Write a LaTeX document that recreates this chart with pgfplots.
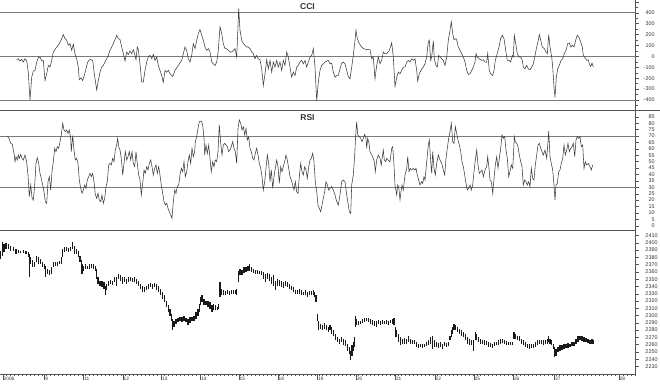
\documentclass[border=0pt]{standalone}
\usepackage{pgfplots}
\pgfplotsset{compat=1.18}
\usepackage{fontspec}
\setmainfont{Liberation Sans}
\definecolor{linecol}{HTML}{3C3C3C}
\definecolor{refcol}{HTML}{7A7A7A}
\definecolor{sepcol}{HTML}{555555}
\definecolor{labcol}{HTML}{333333}
\pgfplotsset{
  panel/.style={
    scale only axis, width=635.7pt, xmin=0, xmax=635.7,
    axis x line*=bottom, axis y line*=right,
    axis line style={sepcol, line width=0.6pt},
    tick align=outside, ytick pos=right, yticklabel pos=right,
    major tick length=3pt, minor tick length=1.8pt,
    every tick/.style={sepcol, line width=0.4pt},
    yticklabel style={font=\fontsize{5.4}{6}\selectfont, anchor=east, inner sep=0pt, xshift=16pt, text=labcol},
  }
}
\begin{document}
\begin{tikzpicture}
\useasboundingbox (0pt,0pt) rectangle (660pt,383pt);
% ---------------- CCI ----------------
\begin{axis}[panel, at={(0pt,273pt)}, anchor=south west, height=110pt,
  ymin=-492, ymax=517, xtick=\empty,
  ytick={-400,-300,-200,-100,0,100,200,300,400,500},
  yticklabels={-400,-300,-200,-100,0,100,200,300,400,{}},
  minor ytick={-450,-350,-250,-150,-50,50,150,250,350,450}]
\addplot[refcol, line width=0.9pt] coordinates {(0,400) (635.7,400)};
\addplot[refcol, line width=0.9pt] coordinates {(0,0) (635.7,0)};
\addplot[refcol, line width=0.9pt] coordinates {(0,-400) (635.7,-400)};
\addplot[linecol, line width=0.55pt] table {
x y
16.7 -31
18.3 -22
20 -43
21.7 -28
23.3 -52
25 -22
26.7 -43
28.3 -145
30 -400
31.7 -191
33.3 -135
35 -129
36.7 -52
38.3 -12
40 -6
41.7 -43
43.3 -37
45 -222
46.7 -160
48.3 -83
50 -98
51.7 -37
53.3 40
55 62
56.7 86
58.3 102
60 132
61.7 163
63.3 200
65 163
66.7 148
68.3 102
70 117
71.7 55
73.3 111
75 25
76.7 -22
78.3 -98
79.3 -215
81 -197
82.7 -222
84.3 -175
86 -114
87.7 -52
90 -28
92.7 -37
94.3 -160
96.7 -308
98.3 -222
100 -145
101.7 -98
103.3 -83
105 -52
106.7 -22
108.3 9
110 55
111.7 86
113.3 117
115 154
116.7 194
118.3 163
120 154
121.7 86
123.3 25
125 -43
126.7 40
128.3 18
130 49
131.7 25
133.3 62
135 9
136 -31
137.3 86
138.3 62
140 -68
141.7 -237
143.3 -237
145 -129
146.7 -52
148.3 -6
150 9
151.7 -22
153.3 18
155 -37
156.7 -6
158.3 -83
160 -129
161.7 -175
163.3 -237
165 -129
166.7 -145
168.3 -129
170 -160
172.7 -185
175 -129
178.3 -83
181.7 -37
183.3 25
185 86
186.7 55
188.3 -22
190 -52
191.7 9
193.3 117
195 71
196.7 148
198.3 209
200 246
201.7 194
203.3 148
205 86
206.7 55
208.3 71
210 40
211.7 -52
213.3 -68
215 -83
216.7 -52
218.3 55
220 271
221.7 209
223.3 117
225 71
226.7 71
228.3 55
230 40
231.7 40
233.3 55
235 71
236.7 -6
237.7 209
238.7 440
240 240
241.7 148
243.3 117
245 102
246.7 86
248.3 86
250 71
251.7 40
253.3 25
255 -22
256.7 9
258.3 -22
260 -31
261.7 -114
263.3 -268
265 -160
266.7 -31
268.3 -114
270 -37
271.7 -145
273.3 -52
275 -98
276.7 -37
278.3 -98
280 -52
281.7 -129
283.3 -37
285 -83
286.7 40
288.3 -6
290 -98
291.7 -191
293.3 -145
295 -175
296.7 -98
298.3 -83
300 -52
301.7 -37
303.3 -68
305 -37
306.7 -98
308.3 -52
310 -6
311.7 9
313.3 71
315 -98
316.7 -406
318.3 -237
320 -129
321.7 -83
325 -52
328.3 -37
330 -68
331.7 -62
333.3 -145
335 -191
336.7 -175
338.3 -175
340 -114
341.7 -62
343.3 -52
345 -68
346.7 -129
348.3 -185
350 -206
351.7 -98
353.3 9
355 148
356 240
357.3 163
359.3 117
361.7 86
363.3 71
366.7 62
370 62
371.7 -22
373.3 -6
375 -206
376.7 -83
378.3 -6
380 -68
381.7 -37
383.3 40
385 25
386.7 25
389.3 55
391.7 123
393.3 -6
395 -277
396.7 -191
398.3 -145
400 -160
401.7 -129
403.3 -98
405 -98
406.7 -52
408.3 -37
410 -52
411.7 -22
413.3 -37
415 -22
416.7 -129
417.7 -228
419.3 -160
421.7 -114
423.3 -98
425 -68
426.7 -6
428.3 132
429.3 148
430.7 -37
431.7 -6
433.3 142
434.3 -22
436 -83
437.3 -98
438.7 9
440 -6
441.7 -22
443.3 -37
445 -83
446.7 -6
448.3 148
450 240
451.3 317
452.7 209
454 154
456 163
457.3 132
458.3 86
460 55
461.7 25
463.3 -6
465 -52
466.7 -129
468.3 -166
470 -160
471.7 -129
473.3 -98
475 -52
476 25
477.3 -6
479.3 -22
481.7 -37
483.3 -31
485 -52
486.7 -52
487.7 25
489.3 -129
490.7 -160
492.7 -175
494 -129
495.3 -37
496.7 9
497.7 40
499 86
500.7 163
502.3 194
504 163
505.7 55
507.3 -37
509 -37
510.7 -52
512.3 9
513.3 -6
514.3 194
515.7 117
517.3 25
519 -6
520.7 -6
522.3 -37
523.3 -98
525 -114
526.7 -83
528.3 -114
530 -123
531.7 -98
533.3 -68
535 9
536.7 86
538.3 148
539.3 200
540.7 148
542.3 86
544.3 71
546 40
547.3 25
548.7 200
550 86
551.7 -6
552.7 -98
554 -283
555 -375
556.3 -191
557.7 -114
559.3 -83
561 -37
562.7 -22
564.3 25
566 55
567.7 117
569.3 123
570.7 86
572.3 102
574 86
575.7 148
577.3 194
579 172
580.7 132
582.3 86
583.3 9
585 -12
586.7 -37
588.3 -31
589.3 -68
590.7 -92
592 -62
593.3 -98
};
\end{axis}
\draw[sepcol, line width=0.6pt] (0pt,273pt) -- (660pt,273pt);
\node[font=\bfseries\fontsize{8.5}{9}\selectfont, text=labcol] at (307.5pt,376.5pt) {CCI};
% ---------------- RSI ----------------
\begin{axis}[panel, at={(0pt,153pt)}, anchor=south west, height=120pt,
  ymin=-3.3, ymax=90.3, xtick=\empty,
  ytick={0,5,...,85},
  yticklabels={0,5,10,15,20,25,30,35,40,45,50,55,60,65,70,75,80,85}]
\addplot[refcol, line width=0.9pt] coordinates {(0,70) (635.7,70)};
\addplot[refcol, line width=0.9pt] coordinates {(0,30) (635.7,30)};
\addplot[linecol, line width=0.55pt] table {
x y
7.3 70
9 68.2
10.7 64.3
12.3 63.5
13.3 59.1
14.3 55.2
15 50
16 53.9
17.3 51.3
18.3 55.2
19.3 52.6
20.7 55.7
22 52.6
23.3 51.3
25 55.2
26.7 49.5
28 39.6
29.3 22.7
30.7 31.8
32 22
33.3 20.1
34.7 31.8
36 48.7
37.3 53.1
38.7 48.7
40 40.9
41.3 37
42.7 31.8
44 26.6
45.3 18.8
46.7 17.5
48 34.4
49.3 38.3
50.7 27.9
52 42.2
53.3 50
54.7 60.4
56 57.8
57.3 61.7
58.7 60.4
60 65.6
61.3 70.8
62.7 79.9
64 74.7
65.3 73.4
66.7 74.7
68 72.1
69.3 74.7
70.7 68.2
71.3 57.8
72.7 70.3
74 59.1
75.3 51.3
76.7 52.6
78 48.7
79.3 35.7
80.7 29.2
82 25.3
83.3 27.9
84.7 31.8
86 29.2
87.3 35.7
88.7 38.3
90 40.9
91.3 38.3
92.7 40.9
94 34.4
95.3 24.5
96.7 21.4
98 25.3
99.3 20.1
100.7 18.8
102 24
103.3 17.5
104.7 21.4
106 30.5
107.3 34.4
108.7 47.4
110 48.7
111.3 47.4
112.7 52.6
114 50
115.3 59.1
116.7 63
117.7 68.2
118.7 61.7
120 59.1
121.3 52.6
122.7 39.6
124 48.7
125.3 57.8
126.7 51.3
128 53.9
129.3 57.8
130.7 51.3
132 57.8
133.3 48.7
134.7 46.1
136 57.8
137.3 48.7
138.7 39.6
140 35.7
141.3 24
142.7 33.1
144 43.5
145.3 40.9
146.7 46.1
148 43.5
149.3 48.7
150.7 51.3
152 46.1
153.3 39.6
154.7 44.8
156 47.4
157.3 40.9
158.7 46.1
160 39.6
161.3 31.8
162.7 25.3
164 18.8
165.3 16.2
166.7 17.5
168 13.6
169.3 11
170.7 8.4
172 5.8
173.3 18.8
174.7 27.9
176 25.3
177.3 30.5
178.7 31.8
180 39.6
181.3 44.8
182.7 42.2
184 50
185.3 38.3
186.7 42.2
188 50
189.3 55.2
190.7 48.7
192 60.4
193.3 53.9
194.7 57.8
195.3 65.6
196.7 69.5
198 76
199.3 81.2
201.3 81.7
202.7 78.6
204 68.2
204.7 55.2
206 63
207.3 56.5
208.7 63
210 52.6
211.3 42.2
212.7 50
214 46.1
215.3 51.3
216.7 50
218 57.8
219.3 78.6
220.7 64.3
222 55.2
223.3 63
224.7 64.3
226 63
227.3 61.7
228.7 57.8
230 59.1
231.3 61.7
232.7 65.6
234 60.4
235.3 57.8
236.7 48.7
238 76
239.3 82.5
240.7 79.9
242 74.7
243.3 77.3
244.7 70.8
246 76
247.3 66.9
248.7 69.5
250 60.4
251.3 57.8
252.7 52.6
254 51.3
255.3 56.5
256.7 60.4
258 55.2
259.3 48.7
260.7 44.8
262 38.3
263.3 27.9
264.7 34.4
266 44.8
267.3 55.2
268.7 48.7
270 34.4
271.3 43.5
272.7 29.2
274 38.3
275.3 44.8
276.7 51.3
278 46.1
279.3 33.1
280.7 46.1
282 42.2
283.3 46.1
284.7 50
286 55.2
287.3 51.3
288.7 44.8
290 38.3
291.3 35.7
292.7 31.8
294 27.9
295.3 34.4
296.7 26.6
298 25.3
299.3 38.3
300.7 48.7
302 42.2
303.3 39.6
304.7 46.1
306 43.5
307.3 37
308.7 46.1
310 51.3
311.3 52.6
312.7 56.5
314 50
315.3 34.4
316.7 26.6
318 16.2
319.3 13.6
320.7 11
322 16.2
323.3 21.4
324.7 26.6
326 34.4
327.3 31.8
328.7 27.9
330 29.2
331.7 30.5
333.3 27.9
335 24
336.7 18.8
338.3 16.2
340 24
341.7 34.4
343.3 35.7
345 34.4
346.7 24
348.3 16.2
349.3 11
350.7 9.7
351.7 31.8
353.3 39.6
354.7 55.2
355.7 70.8
356.7 81.2
357.7 70.8
359.3 69.5
360.7 68.2
362 65.6
363.3 68.2
364.7 71.3
366 68.2
366.7 60.4
367.7 68.2
369 64.3
370 57.8
371.7 55.2
373.3 52.6
374.3 50
375.3 42.2
376.7 51.3
378.3 55.2
380 52.6
381.3 47.4
382.3 53.9
383.3 59.1
384.3 51.3
385.7 50
386.7 52.6
388.3 51.3
390 50
391.7 60.4
392.7 61.7
394 47.4
395 31.8
396.7 24
397.7 31.8
398.7 30.5
400 20.1
401 26.6
402 31.8
403.3 27.9
405 39.6
406.7 44.8
407.7 53.9
409 42.2
410.3 44.8
411.7 43.5
413.3 44.8
415 43.5
416 44.8
417.3 39.6
418.7 35.7
420 31.8
421.7 34.4
422.7 33.1
424 38.3
425 35.7
426.7 50
428.3 63
429.3 66.9
430.7 50
431.7 40.9
432.7 57.8
434 44.8
435.3 39.6
436.7 48.7
438.3 55.2
440 51.3
441.7 48.7
443.3 43.5
444.7 39.6
446 52.6
447.3 60.4
448.7 68.2
450 73.4
451.3 79.9
452.7 65.6
454 64.3
455.3 77.3
456.7 72.1
458 66.9
459.3 63
460.7 57.8
462 50
463.3 46.1
464.7 39.6
466 33.1
467.3 27.9
468.7 29.2
470 31.8
471.3 27.9
472.7 31.8
474 42.2
475.3 51.3
476.7 59.1
478 47.4
479.3 40.9
480.7 42.2
482 43.5
483.3 38.3
485 43.5
486.7 46.1
487.7 53.9
489 44.8
490 35.7
491.3 34.4
492.7 25.3
494 37
495.3 47.4
496.7 53.9
498 44.8
499.3 52.6
500.7 60.4
502 70.8
503.3 68.2
504.7 69.5
506 59.1
507.3 52.6
508.7 38.3
510 42.2
511.3 47.4
512.7 44.8
513.3 52.6
514.3 69.5
515.3 65.6
516.7 64.3
518 61.7
519.3 55.2
520.7 50
522 46.1
523.3 31.8
524.7 35.7
526 34.4
527.3 31.8
528.7 34.4
530 30.5
531.3 44.8
532.7 37
534 35.7
535.3 47.4
536.7 55.2
538 63
539.3 64.3
540.7 60.4
542 57.8
543.3 55.2
545 59.1
546.7 52.6
548 65.6
548.7 73.9
550 53.9
551.3 48.7
552.7 43.5
554 31.8
555 20.1
556 31.8
557.3 33.1
558.7 42.2
560 43.5
561.3 48.7
562.7 52.6
564 63
565.3 55.2
566.7 59.1
568 64.3
569.3 57.8
570.7 60.4
572 61.7
573.3 64.3
574.7 53.9
576 66.9
577.3 69.5
578.7 68.2
580 69.5
581.3 61.7
582.7 63
584 44.8
585.3 50
586.7 47.4
588.3 48.7
590 46.1
591.3 43.5
592.7 47.4
};
\end{axis}
\node[font=\bfseries\fontsize{8.5}{9}\selectfont, text=labcol] at (307.5pt,265pt) {RSI};
% ---------------- Price ----------------
\begin{axis}[panel, at={(0pt,9pt)}, anchor=south west, height=144pt,
  ymin=2219.7, ymax=2417.6,
  major tick length=6pt,
  ytick style={/pgfplots/major tick length=3pt},
  ytick={2230,2240,...,2410},
  yticklabels={2230,2240,2250,2260,2270,2280,2290,2300,2310,2320,2330,2340,2350,2360,2370,2380,2390,2400,2410},
  xtick={2.7,44.3,83.3,122.7,161.3,200.3,238.7,277.7,317.3,356,395,434.7,473.7,513,554.3,618.7},
  xticklabels={2006,9,11,12,13,14,15,18,19,20,21,22,25,26,27,28},
  minor xtick={2.7,6.65,...,635},
  xticklabel style={font=\fontsize{4.8}{5}\selectfont, anchor=north west, inner sep=0pt, xshift=0.8pt, yshift=3.5pt, text=labcol}]
\addplot[draw=none, mark=none, error bars/.cd, y dir=plus, y explicit, error mark=none,
  error bar style={draw=black!90, line width=1.5pt}]
  table[x=x, y=lo, y error expr=\thisrow{hi}-\thisrow{lo}] {
x lo hi
0.5 2378.0 2389.4
2.7 2382.5 2400.9
4 2387.1 2398.6
6 2391.7 2399.5
8.3 2391.7 2398.6
10.7 2389.4 2396.3
13.3 2388.5 2394.0
16 2384.8 2391.7
18.3 2385.8 2390.3
20.7 2385.8 2389.4
23.3 2385.8 2390.3
26 2384.8 2389.4
28.3 2380.3 2387.1
29.3 2352.8 2384.8
30.7 2371.1 2380.3
32.7 2366.5 2375.7
34.7 2366.5 2373.4
36.7 2373.4 2382.5
38.7 2371.1 2380.3
40.7 2371.1 2378.0
42.7 2366.5 2373.4
44.7 2364.2 2371.1
45.7 2352.8 2368.8
47.3 2357.4 2364.2
49.3 2355.1 2362.9
51.3 2357.4 2366.5
53.3 2366.5 2373.4
55.3 2368.8 2373.4
57.3 2368.8 2373.4
59.3 2370.2 2374.8
61.3 2371.1 2380.3
62.7 2380.3 2391.7
64.7 2387.1 2394.0
66.7 2388.5 2394.0
68.7 2387.1 2393.1
70.7 2389.4 2394.9
72.7 2391.7 2400.9
74.7 2384.8 2396.3
76.7 2384.8 2391.7
78.7 2380.3 2389.4
80 2373.4 2382.5
81.3 2366.5 2375.7
82 2357.4 2371.1
83.3 2361.9 2368.8
85.3 2364.2 2371.1
87.3 2364.2 2368.8
89.3 2364.2 2371.1
91.3 2365.6 2370.2
93.3 2364.2 2371.1
95.3 2361.9 2368.8
96.7 2350.5 2364.2
98 2343.6 2352.8
100 2341.3 2348.2
102 2339.0 2347.3
104 2336.7 2345.9
105.3 2327.6 2341.3
106.7 2334.5 2343.6
108.7 2341.3 2348.2
110.7 2343.6 2349.1
112.7 2342.7 2348.2
114.7 2345.9 2352.8
116.7 2341.3 2352.8
118.7 2350.5 2357.4
120.7 2348.2 2355.1
122.7 2343.6 2352.8
124.7 2345.9 2352.8
126.7 2343.6 2350.5
128.7 2345.9 2352.8
130.7 2348.2 2352.8
132.7 2345.9 2351.4
134.7 2345.9 2352.8
136.7 2343.6 2350.5
138.7 2341.3 2348.2
140.7 2336.7 2343.6
142.7 2332.2 2341.3
144.7 2332.2 2339.0
146.7 2334.5 2341.3
148.7 2336.7 2343.6
150.7 2339.0 2344.5
152.7 2336.7 2343.6
154.7 2339.0 2344.5
156.7 2335.4 2343.6
158.7 2332.2 2341.3
160.7 2327.6 2336.7
162.7 2323.0 2332.2
164.7 2318.4 2327.6
166.7 2311.6 2320.7
168.7 2304.7 2313.9
170 2300.1 2309.3
171.3 2293.2 2302.4
172.7 2279.5 2295.5
174 2284.1 2293.2
176 2288.7 2295.5
178 2290.9 2296.9
180 2292.3 2298.7
182 2290.9 2297.8
184 2293.2 2300.1
186 2290.9 2296.9
188 2286.4 2295.5
190 2289.6 2297.8
192 2292.3 2298.7
194 2293.2 2300.1
196 2295.5 2304.7
198 2300.1 2309.3
199.3 2304.7 2316.1
200.7 2313.9 2325.3
202 2318.4 2327.6
204 2313.9 2323.0
206 2313.9 2320.7
208 2311.6 2320.7
210 2309.3 2318.4
212 2304.7 2313.9
213.3 2307.0 2316.1
215.3 2307.0 2313.9
217.3 2307.0 2311.6
218.7 2309.3 2316.1
220 2325.3 2345.9
221.3 2327.6 2336.7
223.3 2327.6 2334.5
225.3 2327.6 2333.6
227.3 2329.0 2334.5
229.3 2327.6 2333.6
231.3 2329.0 2334.5
233.3 2329.9 2335.4
235.3 2329.9 2335.4
236.7 2327.6 2336.7
238.7 2345.9 2361.9
240 2355.1 2364.2
242 2355.1 2362.9
244 2358.3 2366.5
246 2359.6 2367.4
248 2361.9 2368.8
249.3 2361.9 2371.1
251.3 2359.6 2366.5
253.3 2358.3 2364.2
255.3 2357.4 2362.9
257.3 2357.4 2362.9
259.3 2357.4 2361.9
261.3 2355.1 2361.9
263.3 2350.5 2359.6
265.3 2345.9 2357.4
267.3 2350.5 2358.3
269.3 2348.2 2357.4
271.3 2343.6 2352.8
273.3 2341.3 2355.1
275.3 2334.5 2348.2
277.3 2341.3 2350.5
279.3 2341.3 2349.1
281.3 2339.0 2348.2
283.3 2338.1 2345.9
285.3 2341.3 2348.2
287.3 2339.0 2345.9
289.3 2336.7 2343.6
291.3 2334.5 2341.3
293.3 2332.2 2339.0
295.3 2329.0 2334.5
297.3 2329.0 2334.5
299.3 2329.9 2336.7
301.3 2327.6 2335.4
303.3 2327.6 2332.2
305.3 2327.6 2334.5
307.3 2326.2 2332.2
309.3 2327.6 2333.1
311.3 2327.6 2333.6
313.3 2327.6 2334.5
314.7 2325.3 2332.2
316 2318.4 2327.6
317.3 2293.2 2302.4
318.7 2279.5 2293.2
320.7 2281.8 2288.7
322.7 2279.5 2286.4
324.7 2281.8 2289.6
326.7 2279.5 2286.4
328.7 2277.2 2284.1
330 2279.5 2286.4
331.7 2274.9 2284.1
333.3 2272.6 2279.5
335.3 2265.8 2274.9
337.3 2263.5 2270.3
339.3 2261.2 2268.0
341.3 2263.5 2270.3
343.3 2258.9 2268.0
345.3 2257.5 2265.8
347.3 2252.0 2261.2
349.3 2247.4 2256.6
350.7 2238.3 2252.0
352 2245.1 2258.9
353.3 2252.0 2263.5
354.7 2256.6 2270.3
355.3 2284.1 2300.1
356.7 2286.4 2295.5
358.7 2286.4 2293.2
360.7 2288.7 2293.2
362.7 2289.6 2295.5
364.7 2290.9 2296.9
366.7 2292.3 2296.9
368.7 2290.9 2296.9
370.7 2288.7 2295.5
372.7 2286.4 2294.2
374.7 2285.0 2293.2
376.7 2284.1 2293.2
378.7 2288.7 2294.2
380.7 2287.7 2293.2
382.7 2288.7 2294.2
384.7 2288.7 2293.2
386.7 2288.7 2294.2
388.7 2287.7 2293.2
390.7 2289.6 2294.2
392.7 2288.7 2295.5
394 2286.4 2296.9
395.3 2270.3 2284.1
396.7 2270.3 2279.5
398.7 2263.5 2274.9
400.7 2258.9 2270.3
402.7 2261.2 2268.0
404.7 2261.2 2269.4
406.7 2261.2 2268.0
408.7 2263.5 2272.6
410.7 2261.2 2268.0
412.7 2261.2 2266.7
414.7 2260.3 2265.8
416.7 2256.6 2263.5
418.7 2255.7 2261.2
420.7 2256.6 2261.2
422.7 2255.7 2260.3
424.7 2256.6 2261.2
426.7 2257.5 2263.5
428.7 2258.9 2265.8
430.7 2261.2 2270.3
432.7 2254.3 2272.6
434.7 2256.6 2265.8
436.7 2256.6 2263.5
438.7 2255.7 2262.1
440.7 2256.6 2263.5
442.7 2254.3 2261.2
444.7 2257.5 2263.5
446.7 2256.6 2262.1
448.7 2257.5 2263.5
450 2265.8 2272.6
451.3 2270.3 2279.5
452.7 2274.9 2284.1
454 2279.5 2288.7
455.3 2279.5 2286.4
457.3 2277.2 2284.1
459.3 2274.9 2281.8
461.3 2272.6 2279.5
463.3 2270.3 2277.2
465.3 2265.8 2274.9
467.3 2261.2 2270.3
469.3 2258.9 2268.0
471.3 2258.9 2265.8
473.3 2252.0 2265.8
475.3 2265.8 2277.2
476.7 2265.8 2274.9
478.7 2263.5 2270.3
480.7 2261.2 2268.0
482.7 2260.3 2265.8
484.7 2258.9 2265.8
486.7 2258.9 2264.8
488.7 2256.6 2263.5
490.7 2256.6 2262.1
492.7 2255.7 2261.2
494.7 2257.5 2263.5
496.7 2258.9 2263.5
498.7 2258.9 2265.8
500.7 2261.2 2268.0
502.7 2262.1 2268.0
504.7 2261.2 2265.8
506.7 2258.9 2264.8
508.7 2258.9 2263.5
510.7 2258.9 2263.5
512.7 2258.9 2263.5
514 2268.0 2277.2
515.3 2268.0 2274.9
517.3 2265.8 2272.6
519.3 2264.8 2271.3
521.3 2261.2 2268.0
523.3 2258.9 2265.8
525.3 2256.6 2263.5
527.3 2255.7 2261.2
529.3 2254.3 2260.3
531.3 2255.7 2261.2
533.3 2255.7 2261.2
535.3 2256.6 2263.5
537.3 2258.9 2265.8
539.3 2260.3 2265.8
541.3 2260.3 2266.7
543.3 2258.9 2265.8
545.3 2260.3 2265.8
547.3 2261.2 2268.0
548.7 2263.5 2272.6
550 2261.2 2268.0
551.3 2258.9 2265.8
553.3 2254.3 2261.2
554.7 2242.9 2256.6
556 2245.1 2254.3
558 2249.7 2256.6
560 2252.0 2258.9
562 2252.9 2258.9
564 2254.3 2260.3
566 2255.7 2261.2
568 2255.7 2262.1
570 2256.6 2261.2
572 2257.5 2263.5
574 2257.5 2263.5
576 2261.2 2268.0
578 2263.5 2271.3
580 2265.8 2272.6
582 2264.8 2271.3
584 2263.5 2270.3
586 2263.5 2269.4
588 2262.1 2268.0
590 2261.2 2266.7
592 2261.2 2268.0
593.3 2261.2 2265.8
};
\end{axis}
\end{tikzpicture}
\end{document}
